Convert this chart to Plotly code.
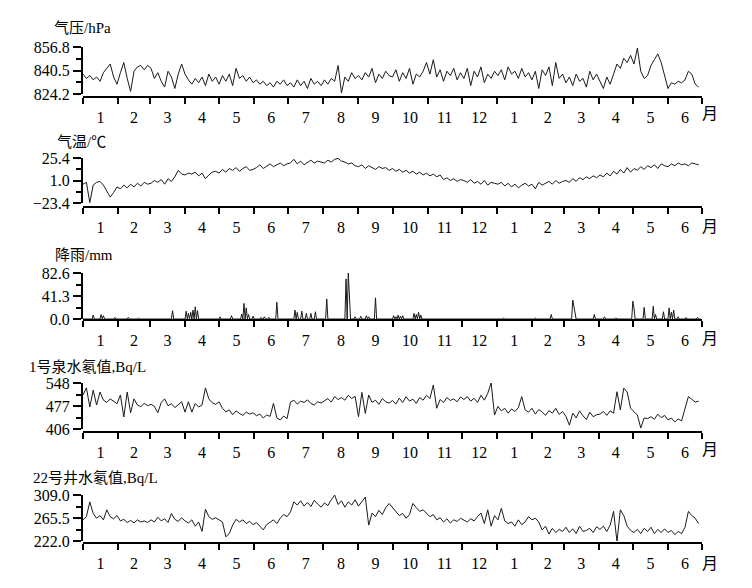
"""
Stacked daily series: pressure, temperature, rain and two radon records (Jan - Jun of next year).
"""
import pandas as pd
import plotly.graph_objects as go

W, H = 752, 588
OFF = 8  # page body margin that shifts the whole figure

# ── data: one reading every 3 days from 1 Jan (rain: daily event list) ───────
pressure = [
    838, 835, 837, 834, 836, 833, 839, 842, 845, 836, 831,
    839, 846, 835, 826, 840, 843, 844, 841, 844,
    842, 835, 839, 833, 829, 840, 836, 828, 838, 845,
    838, 834, 831, 835, 832, 836, 830, 838, 833, 836,
    831, 837, 833, 838, 830, 842, 835, 837, 833, 836, 832,
    834, 831, 833, 830, 832, 829, 833, 831, 834, 830,
    832, 829, 834, 830, 833, 828, 835, 831, 833, 830,
    834, 831, 835, 833, 844, 825, 836, 833, 839, 835,
    837, 834, 839, 836, 842, 832, 838, 835, 840, 837,
    836, 841, 833, 839, 835, 842, 831, 838, 836, 840, 846,
    838, 848, 836, 841, 833, 840, 837, 842, 834, 839,
    835, 842, 830, 840, 836, 843, 832, 838, 835, 840,
    837, 841, 834, 843, 838, 840, 835, 842, 836, 839,
    834, 840, 828, 841, 837, 843, 830, 846, 835, 838,
    832, 836, 830, 838, 833, 835, 829, 840, 834, 838,
    833, 828, 836, 831, 838, 845, 842, 849, 846, 851,
    845, 856, 840, 835, 837, 844, 848, 852, 846, 836,
    828, 832, 831, 833, 832, 834, 840, 838, 831, 829,
]

temperature = [
    -3, -1, -23, -4, -1, 0, -4, -10, -17, -12, -6,
    -8, -4, -7, -3, -6, -2, -5, -1, -3,
    -2, 1, -1, 2, -3, 3, 0, 5, 12, 8,
    7, 9, 8, 10, 6, 9, 3, 7, 10, 11,
    9, 13, 10, 14, 12, 15, 11, 14, 16, 12, 13,
    15, 18, 14, 17, 19, 16, 18, 20, 17, 19,
    20, 24, 19, 22, 18, 21, 23, 20, 22, 21,
    20, 23, 21, 24, 25, 22, 21, 19, 20, 17,
    16, 18, 14, 17, 15, 13, 16, 14, 15, 12,
    14, 11, 13, 10, 12, 9, 11, 8, 10, 7, 9,
    6, 8, 5, 7, 2, 4, 1, 3, 0, 2,
    1, -1, 2, -2, 0, -3, 1, -4, -1, -2,
    -3, -1, -5, -2, -6, -3, -7, -4, -2, -5,
    -3, -8, -1, -4, -2, 0, -3, 1, -2, 0,
    1, -1, 3, 0, 4, 2, 5, 3, 6, 4,
    7, 5, 9, 6, 11, 8, 13, 9, 15, 10,
    14, 12, 16, 13, 17, 15, 18, 14, 19, 17,
    16, 19, 17, 20, 18, 19, 17, 20, 19, 18,
]

radon_1 = [
    511, 533, 474, 526, 480, 520, 495, 488, 499, 490, 484,
    511, 443, 520, 456, 499, 480, 475, 485, 478,
    482, 476, 456, 488, 499, 478, 484, 472, 480, 490,
    458, 490, 458, 485, 474, 480, 533, 499, 487, 482,
    490, 470, 459, 465, 450, 462, 454, 448, 458, 452, 456,
    447, 452, 440, 449, 445, 485, 440, 434, 446, 438,
    489, 495, 483, 492, 488, 496, 485, 480, 490, 486,
    494, 500, 489, 506, 497, 503, 495, 510, 500, 507,
    444, 519, 454, 511, 488, 495, 482, 500, 490, 486,
    494, 483, 501, 488, 506, 492, 498, 485, 503, 495, 510,
    500, 542, 470, 497, 488, 503, 494, 499, 490, 505,
    497, 506, 492, 501, 488, 510, 495, 516, 548, 449,
    476, 462, 470, 455, 468, 460, 472, 506, 465, 458,
    470, 452, 466, 459, 448, 463, 455, 470, 451, 460,
    445, 418, 455, 440, 462, 447, 435, 458, 444, 450,
    452, 460, 448, 462, 455, 521, 465, 532, 520, 470,
    458, 449, 409, 440, 438, 444, 436, 452, 441, 448,
    434, 440, 428, 437, 431, 466, 506, 498, 489, 492,
]

radon_22 = [
    262, 268, 296, 274, 265, 270, 262, 281, 268, 264, 270,
    260, 263, 257, 261, 256, 262, 258, 260, 257,
    262, 258, 267, 260, 264, 257, 274, 263, 259, 266,
    260, 256, 262, 250, 258, 240, 282, 268, 263, 266,
    262, 258, 230, 236, 252, 263, 258, 262, 255, 259, 253,
    257, 250, 243, 253, 258, 262, 255, 265, 272, 268,
    277, 296, 290, 298, 288, 295, 287, 299, 292, 286,
    294, 289, 300, 309, 291, 298, 286, 296, 290, 300,
    288, 296, 305, 252, 275, 268, 280, 272, 285, 293,
    286, 278, 270, 274, 265, 272, 293, 285, 278, 281, 274,
    268, 272, 262, 266, 258, 264, 256, 262, 259, 265,
    261, 258, 264, 260, 268, 275, 255, 281, 250, 270,
    262, 284, 260, 255, 258, 250, 262, 253, 258, 268,
    262, 265, 258, 243, 250, 235, 246, 238, 244, 240,
    248, 238, 245, 236, 250, 240, 242, 246, 238, 249,
    244, 250, 240, 252, 278, 221, 281, 270, 250, 242,
    238, 244, 236, 246, 240, 248, 236, 244, 238, 245,
    238, 242, 234, 240, 236, 248, 278, 270, 265, 255,
]

# rain: day number (0 = 1 Jan) and amount in mm, all other days dry
rain_day = [9, 16, 18, 28, 40, 49, 79, 91, 93, 95, 97, 99, 101, 121, 131, 140,
            142, 144, 146, 150, 157, 160, 164, 171, 187, 189, 193, 197, 201, 205,
            215, 232, 234, 235, 240, 245, 250, 252, 258, 274, 276, 278, 280, 282,
            292, 294, 296, 298, 371, 399, 413, 432, 433, 434, 451, 460, 470, 485,
            486, 495, 503, 505, 512, 517, 519, 521, 525, 532, 542]
rain_mm = [7, 8, 6, 3, 3, 2, 15, 14, 10, 12, 16, 22, 15, 4, 6, 9,
           28, 20, 8, 5, 3, 4, 3, 30, 16, 12, 14, 10, 10, 13,
           36, 72, 82.6, 40, 4, 5, 6, 4, 38, 6, 4, 7, 5, 6,
           10, 8, 12, 7, 2, 2, 8, 34, 22, 12, 8, 4, 2, 32,
           20, 21, 23, 8, 13, 20, 12, 16, 4, 3, 3]

titles = ["气压/hPa", "气温/℃", "降雨/mm", "1号泉水氡值,Bq/L", "22号井水氡值,Bq/L"]
y_ticks = [[824.2, 840.5, 856.8], [-23.4, 1.0, 25.4], [0.0, 41.3, 82.6],
           [406, 477, 548], [222.0, 265.5, 309.0]]
y_ticktext = [["824.2", "840.5", "856.8"], ["−23.4", "1.0", "25.4"], ["0.0", "41.3", "82.6"],
              ["406", "477", "548"], ["222.0", "265.5", "309.0"]]

# ── build daily / 3-day x values ─────────────────────────────────────────────
start = "2009-01-01"
rain_dates = pd.date_range(start, "2010-06-30", freq="D")
rain = pd.Series(0.0, index=rain_dates)
rain.iloc[rain_day] = rain_mm

series = [
    (pd.date_range(start, periods=len(pressure), freq="3D"), pressure),
    (pd.date_range(start, periods=len(temperature), freq="3D"), temperature),
    (rain.index, rain.values),
    (pd.date_range(start, periods=len(radon_1), freq="3D"), radon_1),
    (pd.date_range(start, periods=len(radon_22), freq="3D"), radon_22),
]

# pixel layout (screen px) of each panel: plot top, plot bottom, x-axis line, title
panel_top = [47, 158, 273, 383, 495]
panel_bot = [94, 203, 319, 429, 541]
xline_y = [97, 207, 320, 432, 543]
title_pos = [(52, 28), (55, 142), (53, 255), (27, 366), (31, 477)]
label_y = [113, 226, 338, 450, 563]


def px_x(x):
    return (x - OFF) / W


def px_y(y):
    return 1 - (y - OFF) / H


FONT = "Liberation Serif, Noto Sans CJK SC, serif"
x_dom = [px_x(83), px_x(702)]

fig = go.Figure()
layout = dict(
    width=W, height=H, margin=dict(l=0, r=0, t=0, b=0, autoexpand=False),
    template="none",
    paper_bgcolor="white", plot_bgcolor="white", showlegend=False,
    font=dict(family=FONT, size=16, color="black"),
)
annotations = []

for i, (xs, ys) in enumerate(series):
    n = i + 1
    sfx = "" if n == 1 else str(n)
    fig.add_trace(go.Scatter(
        x=xs, y=ys, mode="lines",
        line=dict(color="#1a1a1a", width=1),
        xaxis=f"x{sfx}", yaxis=f"y{sfx}", hoverinfo="skip",
    ))
    lo, mid, hi = y_ticks[i]
    layout[f"xaxis{sfx}"] = dict(
        domain=x_dom, anchor="free", position=px_y(xline_y[i]), automargin=False,
        type="date", range=["2009-01-01", "2010-07-01"],
        tick0="2009-01-01", dtick="M1", tickformat="%-m", ticklabelmode="period",
        ticks="outside", ticklen=6, tickwidth=2, tickcolor="black",
        showline=True, linewidth=2, linecolor="black",
        showgrid=False, zeroline=False, fixedrange=True,
        tickfont=dict(family=FONT, size=16),
    )
    layout[f"yaxis{sfx}"] = dict(
        domain=[px_y(panel_bot[i]), px_y(panel_top[i])], anchor=f"x{sfx}",
        automargin=False,
        range=[lo, hi], tickmode="array", tickvals=y_ticks[i], ticktext=y_ticktext[i],
        ticks="outside", ticklen=8, tickwidth=2, tickcolor="black",
        minor=dict(tickmode="array", tickvals=[(lo + mid) / 2, (mid + hi) / 2],
                   ticks="outside", ticklen=5, tickwidth=1.5, tickcolor="black",
                   showgrid=False),
        showline=True, linewidth=2, linecolor="black",
        showgrid=False, zeroline=False, fixedrange=True,
        tickfont=dict(family=FONT, size=16),
    )
    tx, ty = title_pos[i]
    annotations.append(dict(
        text=titles[i], x=px_x(tx), y=px_y(ty), xref="paper", yref="paper",
        xanchor="left", yanchor="middle", showarrow=False,
        font=dict(family=FONT, size=15),
    ))
    annotations.append(dict(
        text="月", x=px_x(710), y=px_y(label_y[i]), xref="paper", yref="paper",
        xanchor="center", yanchor="middle", showarrow=False,
        font=dict(family=FONT, size=16),
    ))

layout["annotations"] = annotations
fig.update_layout(**layout)
fig.write_html("out.html")
